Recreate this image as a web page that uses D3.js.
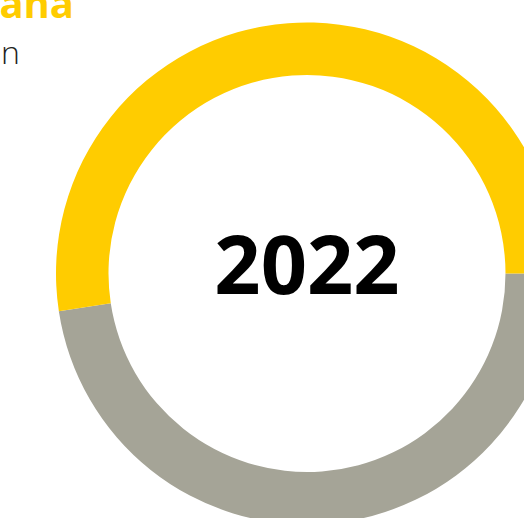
<!DOCTYPE html>
<html>
<head>
<meta charset="utf-8">
<script src="https://cdn.jsdelivr.net/npm/d3@7"></script>
<style>
  html, body { margin: 0; padding: 0; background: #fff; overflow: hidden; }
  svg { display: block; }
</style>
</head>
<body>
<script>
const width = 524;
const height = 518;

// data
const categories = ["Otra", "Mexicana"];
const values = [47.6, 52.4];
const colors = ["#a5a497", "#ffcc00"];
const year = "2022";
const title = "Mexicana";
const subtitle = "Población";

const cx = 307;
const cy = 273.5;
const outerRadius = 251;
const innerRadius = 198.5;

const pie = d3
  .pie()
  .sort(null)
  .startAngle(Math.PI / 2)
  .endAngle(Math.PI / 2 + 2 * Math.PI);

const arc = d3.arc().innerRadius(innerRadius).outerRadius(outerRadius);

const color = d3.scaleOrdinal(categories, colors);

const svg = d3
  .select("body")
  .append("svg")
  .attr("width", width)
  .attr("height", height);

svg
  .append("g")
  .attr("transform", `translate(${cx},${cy})`)
  .selectAll("path")
  .data(pie(values))
  .join("path")
  .attr("d", arc)
  .attr("fill", (d, i) => color(categories[i]));

svg
  .append("text")
  .attr("x", cx)
  .attr("y", cy + 20)
  .attr("text-anchor", "middle")
  .attr("font-family", "'Open Sans', sans-serif")
  .attr("font-weight", 700)
  .attr("font-size", 81)
  .attr("fill", "#000")
  .text(year);

svg
  .append("text")
  .attr("x", 74)
  .attr("y", 18)
  .attr("text-anchor", "end")
  .attr("font-family", "'Open Sans', sans-serif")
  .attr("font-weight", 700)
  .attr("font-size", 40)
  .attr("fill", "#ffcc00")
  .text(title);

svg
  .append("text")
  .attr("x", 20)
  .attr("y", 64)
  .attr("text-anchor", "end")
  .attr("font-family", "'Open Sans', sans-serif")
  .attr("font-weight", 300)
  .attr("font-size", 32)
  .attr("fill", "#222")
  .text(subtitle);
</script>
</body>
</html>
